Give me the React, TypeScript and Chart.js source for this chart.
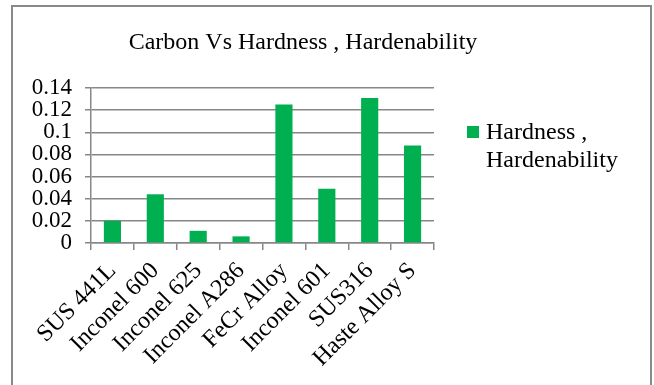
import React, { useEffect, useRef } from "react";
import { Chart, registerables } from "chart.js";

Chart.register(...registerables);

const categories = [
  "SUS 441L",
  "Inconel 600",
  "Inconel 625",
  "Inconel A286",
  "FeCr Alloy",
  "Inconel 601",
  "SUS316",
  "Haste Alloy S",
];
const hardnessValues = [0.02, 0.044, 0.011, 0.006, 0.125, 0.049, 0.131, 0.088];
const yTickLabels = ["0", "0.02", "0.04", "0.06", "0.08", "0.1", "0.12", "0.14"];
const seriesLabel = "Hardness , Hardenability";
const legendLines = ["Hardness ,", "Hardenability"];
const chartTitle = "Carbon Vs Hardness , Hardenability";

const FONT = '"Liberation Serif", "Times New Roman", serif';
const GRID = "#878787";
const BAR = "#00B050";

const overlayPlugin = {
  id: "overlay",
  afterDraw(chart: any) {
    const { ctx, chartArea } = chart;
    ctx.save();
    ctx.fillStyle = "#000";
    ctx.font = `24px ${FONT}`;
    ctx.textAlign = "center";
    ctx.textBaseline = "alphabetic";
    ctx.fillText(chartTitle, chartArea.left + 212, 49);
    // legend
    const lx = chartArea.right + 33;
    ctx.fillStyle = BAR;
    ctx.fillRect(lx, 126, 12, 12);
    ctx.fillStyle = "#000";
    ctx.textAlign = "left";
    legendLines.forEach((line, i) => {
      ctx.fillText(line, lx + 19, 139 + i * 27.5);
    });
    ctx.restore();
  },
};

export default function App() {
  const ref = useRef<HTMLCanvasElement>(null);
  useEffect(() => {
    if (!ref.current) return;
    const chart = new Chart(ref.current, {
      type: "bar",
      data: {
        labels: categories,
        datasets: [
          {
            label: seriesLabel,
            data: hardnessValues,
            backgroundColor: BAR,
            borderWidth: 0,
            categoryPercentage: 1,
            barPercentage: 0.4,
          },
        ],
      },
      options: {
        animation: false,
        responsive: false,
        maintainAspectRatio: false,
        layout: { padding: { top: 88, right: 220, left: 0, bottom: 0 } },
        plugins: {
          legend: { display: false },
          title: { display: false },
          tooltip: { enabled: false },
        },
        scales: {
          x: {
            grid: {
              drawOnChartArea: false,
              drawTicks: true,
              tickLength: 7,
              color: GRID,
              lineWidth: 1.5,
              offset: true,
            },
            border: { display: true, color: GRID, width: 1.5 },
            ticks: {
              color: "#000",
              font: { family: FONT, size: 24 },
              minRotation: 45,
              maxRotation: 45,
              autoSkip: false,
              padding: 7,
            },
            afterFit(scale: any) {
              scale.height = 142;
            },
          },
          y: {
            min: 0,
            max: 0.14,
            grid: {
              color: GRID,
              lineWidth: 1.5,
              drawTicks: true,
              tickLength: 6,
            },
            border: { display: true, color: GRID, width: 1.5 },
            ticks: {
              stepSize: 0.02,
              autoSkip: false,
              color: "#000",
              font: { family: FONT, size: 23, lineHeight: 1 },
              padding: 13,
              callback: (_v: any, i: number) => yTickLabels[i],
            },
            afterFit(scale: any) {
              scale.width = 91;
            },
          },
        },
      },
      plugins: [overlayPlugin],
    });
    return () => chart.destroy();
  }, []);

  return (
    <div
      style={{
        position: "fixed",
        left: 0,
        top: 0,
        width: 654,
        height: 385,
        overflow: "hidden",
        background: "#fff",
      }}
    >
      <div
        style={{
          position: "absolute",
          left: 11,
          top: 5,
          width: 641,
          height: 420,
          border: "2px solid #898989",
          boxSizing: "border-box",
        }}
      />
      <canvas
        ref={ref}
        width={654}
        height={385}
        style={{ position: "absolute", left: 0, top: 0, width: 654, height: 385 }}
      />
    </div>
  );
}
